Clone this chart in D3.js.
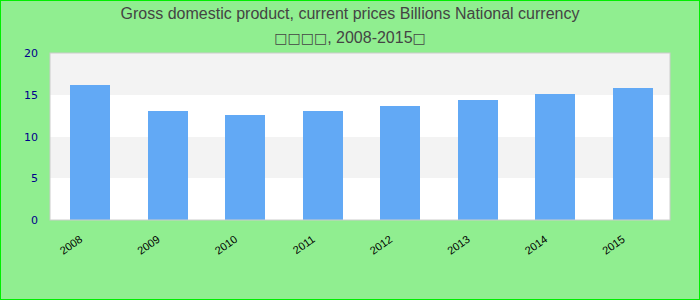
<!DOCTYPE html>
<html>
<head>
<meta charset="utf-8">
<script src="https://cdn.jsdelivr.net/npm/d3@7"></script>
<style>
  body { margin: 0; }
  svg { display: block; font-family: "Liberation Sans", Arial, sans-serif; }
</style>
</head>
<body>
<script>
var years = ["2008", "2009", "2010", "2011", "2012", "2013", "2014", "2015"];
var gdp = [16.17, 13.05, 12.57, 13.05, 13.65, 14.37, 15.09, 15.81];
var yTicks = [0, 5, 10, 15, 20];
var title1 = "Gross domestic product, current prices Billions National currency";
// second line: the glyphs the source font could not show are drawn as squares
var title2 = ["\u25A1\u25A1\u25A1\u25A1", ", 2008-2015", "\u25A1"];

var W = 700, H = 300;
var margin = {top: 53, right: 30, bottom: 80, left: 50};
var width = W - margin.left - margin.right,
    height = H - margin.top - margin.bottom;

var svg = d3.select("body").append("svg")
    .attr("width", W)
    .attr("height", H);

// background + border
svg.append("rect")
    .attr("x", 0.5).attr("y", 0.5)
    .attr("width", W - 1).attr("height", H - 1)
    .attr("fill", "#90ee90")
    .attr("stroke", "#00ee00");

// title
svg.append("text")
    .attr("x", W / 2).attr("y", 19)
    .attr("text-anchor", "middle")
    .attr("font-size", 16)
    .attr("fill", "#444")
    .text(title1);

svg.append("text")
    .attr("x", W / 2).attr("y", 43)
    .attr("text-anchor", "middle")
    .attr("font-size", 16)
    .attr("fill", "#444")
    .selectAll("tspan")
    .data(title2)
    .enter().append("tspan")
    .style("font-family", function(d, i) { return i % 2 ? null : "DejaVu Sans, sans-serif"; })
    .style("font-size", function(d, i) { return i % 2 ? null : "14px"; })
    .text(function(d) { return d; });

var g = svg.append("g")
    .attr("transform", "translate(" + margin.left + "," + margin.top + ")");

var x = d3.scaleBand()
    .domain(years)
    .range([1.5, width + 1.5])
    .paddingInner(0.484)
    .paddingOuter(0.242);

var y = d3.scaleLinear()
    .domain([0, 20])
    .range([height, 0]);

// alternating bands
g.selectAll(".band")
    .data(yTicks.slice(0, -1))
    .enter().append("rect")
    .attr("class", "band")
    .attr("shape-rendering", "crispEdges")
    .attr("x", 0)
    .attr("width", width)
    .attr("y", function(d, i) { return y(yTicks[i + 1]); })
    .attr("height", function(d, i) { return y(d) - y(yTicks[i + 1]); })
    .attr("fill", function(d, i) { return i % 2 ? "#f3f3f3" : "#ffffff"; });

// bars
g.selectAll(".bar")
    .data(gdp)
    .enter().append("rect")
    .attr("class", "bar")
    .attr("shape-rendering", "crispEdges")
    .attr("x", function(d, i) { return x(years[i]); })
    .attr("width", x.bandwidth())
    .attr("y", function(d) { return y(d); })
    .attr("height", function(d) { return height - y(d); })
    .attr("fill", "#62a9f5");

// plot frame
g.append("rect")
    .attr("x", 0).attr("y", 0)
    .attr("width", width).attr("height", height)
    .attr("fill", "none")
    .attr("stroke", "#cccccc");

// y axis
var yAxis = g.append("g")
    .call(d3.axisLeft(y).tickValues(yTicks).tickSize(0).tickPadding(12));
yAxis.select(".domain").remove();
yAxis.selectAll("text")
    .attr("font-size", 11)
    .attr("font-family", "DejaVu Sans, sans-serif")
    .attr("fill", "#00008b");

// x axis
var xAxis = g.append("g")
    .attr("transform", "translate(0," + height + ")")
    .call(d3.axisBottom(x).tickSize(0).tickPadding(0));
xAxis.select(".domain").remove();
xAxis.selectAll("text")
    .attr("font-size", 11)
    .attr("font-family", "Liberation Sans, Arial, sans-serif")
    .attr("fill", "#000")
    .attr("text-anchor", "end")
    .attr("dy", 0)
    .attr("transform", "translate(-7,21) rotate(-35)");
</script>
</body>
</html>
